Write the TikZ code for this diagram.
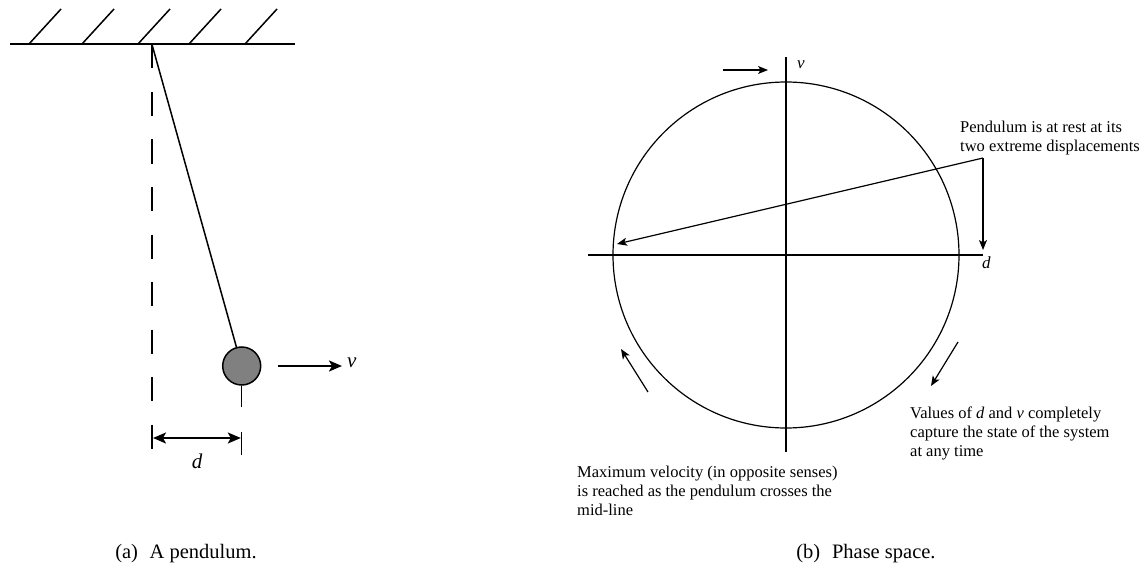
\documentclass[tikz,border=0pt]{standalone}
\usepackage{fontspec}
\setmainfont{Liberation Serif}
\usetikzlibrary{arrows.meta}
\begin{document}
\begin{tikzpicture}[x=1pt,y=-1pt,
  groundline/.style={line width=2pt},
  hatchline/.style={line width=1.5pt},
  plumbline/.style={line width=1.8pt,dash pattern=on 24pt off 23.5pt},
  stringline/.style={line width=1.5pt},
  bob/.style={circle,draw,line width=1.5pt,fill=black!50,minimum size=38pt,inner sep=0pt},
  bigarrow/.style={line width=2pt,-{Stealth[length=13pt,width=11pt,inset=3pt]}},
  dimarrow/.style={line width=2pt,{Stealth[length=13pt,width=11pt,inset=3pt]}-{Stealth[length=13pt,width=11pt,inset=3pt]}},
  biglabel/.style={font=\fontsize{21}{25}\selectfont\itshape,inner sep=0pt},
  caption/.style={font=\fontsize{20.5}{24}\selectfont,inner sep=0pt,anchor=base},
  thinline/.style={line width=1.2pt},
  smallarrow/.style={line width=1.2pt,-{Stealth[length=10pt,width=8pt,inset=2.5pt]}},
  smalllabel/.style={font=\fontsize{17}{20}\selectfont\itshape,inner sep=0pt},
  note/.style={font=\fontsize{16.5}{19.3}\selectfont,align=left,inner sep=0pt,anchor=north west}
]
\useasboundingbox (0,0) rectangle (1140,567);

% ---------- (a) pendulum ----------
\coordinate (gL) at (10,44);
\coordinate (gR) at (295,44);
\draw[groundline] (gL) -- (gR);
\foreach \x in {29,82,138,189,245}
  \draw[hatchline] (\x,44) -- ++(32,-35);

\coordinate (pivot) at (152,44.5);
\coordinate (plumb) at (152,449);
\draw[plumbline] (pivot) -- (plumb);

\node[bob] (bob) at (241.7,366) {};
\draw[stringline] (pivot) -- (bob);
\coordinate (stem) at (241.7,407);
\draw[stringline] (bob.south) -- (stem);

\coordinate (vstart) at (278,366);
\coordinate (vend) at (342,366);
\draw[bigarrow] (vstart) -- (vend);
\node[biglabel,anchor=west] (vlab) at (347,363) {v};

\coordinate (tickTop) at (241.7,432);
\coordinate (tickBot) at (241.7,455);
\draw[hatchline] (tickTop) -- (tickBot);
\coordinate (dimL) at (153,438);
\coordinate (dimR) at (240.8,438);
\draw[dimarrow] (dimL) -- (dimR);
\node[biglabel] (dlab) at (197,461) {d};

\node[caption] (capa) at (186,558) {(a)\hspace{0.57em}A pendulum.};

% ---------- (b) phase space ----------
\coordinate (O) at (786,255);
\draw[thinline] (O) circle (173);
\coordinate (vtop) at (786,57);
\coordinate (vbot) at (786,452);
\coordinate (dleft) at (588,255);
\coordinate (dright) at (983,255);
\draw[thinline] (vtop) -- (vbot);
\draw[thinline] (dleft) -- (dright);
\node[smalllabel,anchor=west] (vaxis) at (797,65) {v};
\node[smalllabel,anchor=west] (daxis) at (982,263) {d};

\coordinate (topA) at (723,70);
\coordinate (topB) at (768,70);
\draw[smallarrow] (topA) -- (topB);

\node[note] (ptext) at (960,120.5) {Pendulum is at rest at its\\two extreme displacements};
\coordinate (corner) at (983,158);
\coordinate (tipL) at (617,244);
\coordinate (tipD) at (983,250);
\draw[smallarrow] (corner) -- (tipL);
\draw[smallarrow] (corner) -- (tipD);

\coordinate (brA) at (958,342);
\coordinate (brB) at (931,386);
\draw[smallarrow] (brA) -- (brB);
\coordinate (blA) at (648,392);
\coordinate (blB) at (621,349);
\draw[smallarrow] (blA) -- (blB);

\node[note] (vtext) at (910,406.5) {Values of \textit{d} and \textit{v} completely\\capture the state of the system\\at any time};
\node[note] (mtext) at (577,465.5) {Maximum velocity (in opposite senses)\\is reached as the pendulum crosses the\\mid-line};

\node[caption] (capb) at (866,558) {(b)\hspace{0.57em}Phase space.};
\end{tikzpicture}
\end{document}
